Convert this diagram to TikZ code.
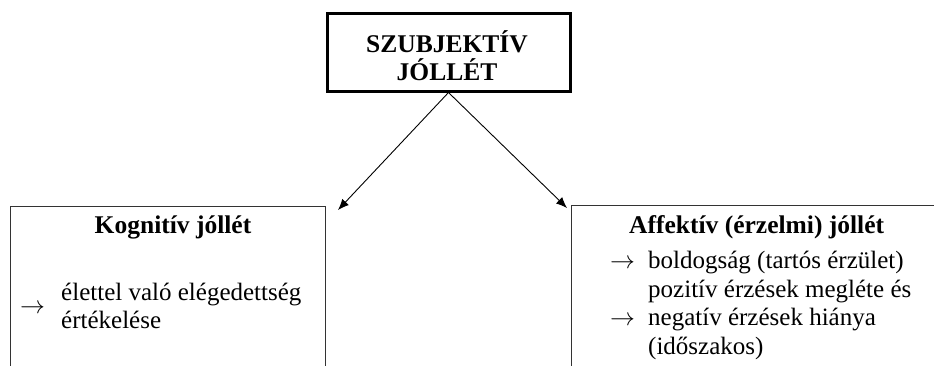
\documentclass[tikz,border=0pt]{standalone}
\usepackage{fontspec}
\setmainfont{Liberation Serif}
\usetikzlibrary{arrows.meta}
\begin{document}
\begin{tikzpicture}[x=1pt,y=-1pt,
  txt/.style={font=\fontsize{25}{28}\selectfont, inner sep=0pt, anchor=base west},
  ttl/.style={font=\fontsize{25.5}{28}\selectfont\bfseries, inner sep=0pt, anchor=base},
  panel/.style={draw=black!80, line width=1.3pt, inner sep=0pt, anchor=north west},
  conn/.style={line width=0.9pt, -{Latex[length=11pt,width=9pt]}}]
\useasboundingbox (0,0) rectangle (934,365);
% top box
\node[draw, line width=3pt, minimum width=243pt, minimum height=78pt, inner sep=0pt] (top) at (448.5,52) {};
\node[ttl] (t1) at (447,52) {SZUBJEKTÍV};
\node[ttl] (t2) at (447,80) {JÓLLÉT};
% panels
\node[panel, minimum width=315pt, minimum height=220pt] (kog) at (10,206) {};
\node[panel, minimum width=420pt, minimum height=220pt] (aff) at (571,205) {};
% arrow ends
\coordinate (kogend) at (338,210);
\coordinate (affend) at (567,208);
\draw[conn] (top.south) -- (kogend);
\draw[conn] (top.south) -- (affend);
% left texts
\node[ttl] (kt) at (173,233) {Kognitív jóllét};
\node[txt] (ka) at (20,313) {$\rightarrow$};
\node[txt] (k1) at (61,300) {élettel való elégedettség};
\node[txt] (k2) at (61,328) {értékelése};
% right texts
\node[ttl, anchor=base west] (at) at (629,233) {Affektív (érzelmi) jóllét};
\node[txt] (aa1) at (610,268) {$\rightarrow$};
\node[txt] (a1) at (648,268) {boldogság (tartós érzület)};
\node[txt] (a2) at (648,297) {pozitív érzések megléte és};
\node[txt] (aa2) at (610,325) {$\rightarrow$};
\node[txt] (a3) at (648,325) {negatív érzések hiánya};
\node[txt] (a4) at (648,354) {(időszakos)};
\end{tikzpicture}
\end{document}
